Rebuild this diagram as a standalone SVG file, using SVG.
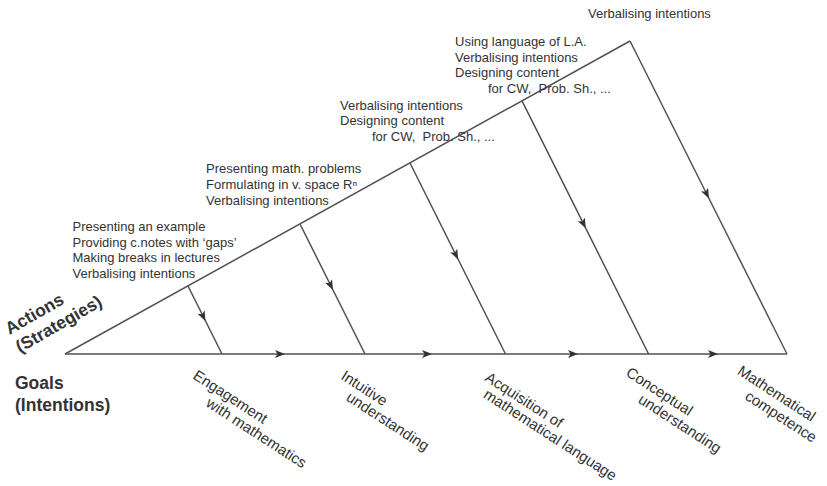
<svg xmlns="http://www.w3.org/2000/svg" width="827" height="486" viewBox="0 0 827 486">
<style>
.t{font-family:"Liberation Sans",Arial,sans-serif;font-size:13px;fill:#333}
.g{font-family:"Liberation Sans",Arial,sans-serif;font-size:15px;fill:#333}
.b{font-family:"Liberation Sans",Arial,sans-serif;font-size:17.5px;font-weight:bold;fill:#333}
.ln{fill:none;stroke:#525252;stroke-width:1.5;marker-mid:url(#ah)}
</style>
<defs>
<marker id="ah" viewBox="0 0 10 8" refX="9" refY="4" markerWidth="10" markerHeight="8" markerUnits="userSpaceOnUse" orient="auto">
<path d="M0,0 L10,4 L0,8 L2.5,4 z" fill="#333"/>
</marker>
</defs>
<rect width="827" height="486" fill="#fff"/>
<g id="connectors">
<line x1="65" y1="354" x2="630" y2="41" stroke="#525252" stroke-width="1.5"/>
<polyline class="ln" points="65,354 284,354 431,354 577,354 717,354 787,354"/>
<polyline class="ln" points="630,41 708.5,197.5 787,354"/>
<polyline class="ln" points="188,286 205,320 222,354"/>
<polyline class="ln" points="300,224 332.5,289 365,354"/>
<polyline class="ln" points="410,163 457.7,258.5 505.5,354"/>
<polyline class="ln" points="522,100.8 585.3,227.4 648.6,354"/>
</g>
<g id="axis-actions">
<text class="b" transform="translate(9.5,335) rotate(-30)"><tspan x="0" y="0">Actions</tspan><tspan x="0" y="21">(Strategies)</tspan></text>
</g>
<g id="axis-goals">
<text class="b"><tspan x="15" y="388.5">Goals</tspan><tspan x="15" y="411">(Intentions)</tspan></text>
</g>
<g id="actions-1">
<text class="t"><tspan x="72.5" y="230.7">Presenting an example</tspan><tspan x="72.5" y="246.5">Providing c.notes with ‘gaps’</tspan><tspan x="72.5" y="262.3">Making breaks in lectures</tspan><tspan x="72.5" y="277.7">Verbalising intentions</tspan></text>
</g>
<g id="actions-2">
<text class="t"><tspan x="206" y="173">Presenting math. problems</tspan><tspan x="206" y="189">Formulating in v. space Rⁿ</tspan><tspan x="206" y="205">Verbalising intentions</tspan></text>
</g>
<g id="actions-3">
<text class="t"><tspan x="340" y="109.5">Verbalising intentions</tspan><tspan x="340" y="125">Designing content</tspan><tspan x="372" y="141">for CW,&#160; Prob. Sh., ...</tspan></text>
</g>
<g id="actions-4">
<text class="t"><tspan x="455" y="46">Using language of L.A.</tspan><tspan x="455" y="61.5">Verbalising intentions</tspan><tspan x="455" y="77">Designing content</tspan><tspan x="488" y="92.5">for CW,&#160; Prob. Sh., ...</tspan></text>
</g>
<g id="actions-5">
<text class="t" x="588" y="18">Verbalising intentions</text>
</g>
<g id="goal-1">
<text class="g" transform="translate(192,378) rotate(33)"><tspan x="0" y="0">Engagement</tspan><tspan x="26" y="16">with mathematics</tspan></text>
</g>
<g id="goal-2">
<text class="g" transform="translate(340,378.5) rotate(33)"><tspan x="0" y="0">Intuitive</tspan><tspan x="16" y="15">understanding</tspan></text>
</g>
<g id="goal-3">
<text class="g" transform="translate(484,380) rotate(33)"><tspan x="0" y="0">Acquisition of</tspan><tspan x="8" y="15">mathematical language</tspan></text>
</g>
<g id="goal-4">
<text class="g" transform="translate(625,375) rotate(33)"><tspan x="0" y="0">Conceptual</tspan><tspan x="25" y="16">understanding</tspan></text>
</g>
<g id="goal-5">
<text class="g" transform="translate(736.5,373.5) rotate(33)"><tspan x="0" y="0">Mathematical</tspan><tspan x="20" y="17">competence</tspan></text>
</g>
</svg>
